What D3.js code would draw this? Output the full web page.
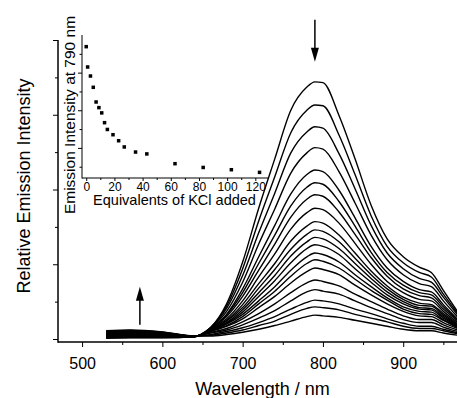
<!DOCTYPE html>
<html>
<head>
<meta charset="utf-8">
<script src="https://cdn.jsdelivr.net/npm/d3@7"></script>
<style>
  body { margin: 0; background: #fff; }
  svg { display: block; font-family: "Liberation Sans", Arial, sans-serif; }
</style>
</head>
<body>
<svg width="457" height="398"></svg>
<script>
// emission spectra, one row per KCl addition
const wavelengths = [530, 560, 600, 640, 660, 680, 700, 720, 740, 760, 780, 790, 800, 820, 840, 860, 880, 900, 920, 935, 950, 968];
const spectra = [
  [.010,.015,.015,.030,.15,.47,1.03,1.75,2.41,3.06,3.37,3.44,3.43,2.99,2.41,1.79,1.34,1.10,.96,.89,.65,.36],
  [.015,.021,.019,.031,.15,.44,.94,1.58,2.17,2.76,3.06,3.13,3.12,2.73,2.20,1.65,1.24,1.02,.89,.83,.60,.34],
  [.021,.026,.023,.031,.15,.41,.85,1.42,1.95,2.49,2.77,2.84,2.82,2.48,2.01,1.52,1.15,.94,.81,.76,.56,.32],
  [.026,.032,.028,.032,.15,.37,.76,1.27,1.74,2.22,2.49,2.56,2.54,2.24,1.82,1.39,1.06,.86,.74,.70,.51,.29],
  [.031,.037,.032,.032,.14,.33,.67,1.10,1.52,1.94,2.20,2.26,2.24,1.99,1.62,1.24,.95,.77,.66,.63,.46,.26],
  [.036,.043,.036,.033,.14,.32,.62,1.01,1.39,1.78,2.03,2.09,2.07,1.84,1.51,1.16,.89,.72,.62,.59,.43,.25],
  [.042,.048,.040,.033,.13,.30,.57,.92,1.27,1.63,1.87,1.93,1.91,1.70,1.40,1.09,.84,.67,.58,.55,.40,.24],
  [.047,.054,.044,.034,.13,.27,.51,.83,1.14,1.47,1.69,1.75,1.73,1.55,1.28,1.00,.77,.62,.53,.51,.37,.22],
  [.052,.059,.049,.034,.12,.25,.46,.74,1.01,1.31,1.51,1.57,1.55,1.39,1.15,.91,.71,.56,.48,.46,.34,.20],
  [.057,.065,.053,.035,.12,.24,.42,.68,.93,1.20,1.40,1.46,1.44,1.30,1.08,.86,.67,.53,.45,.44,.32,.19],
  [.063,.070,.057,.035,.12,.22,.39,.62,.85,1.11,1.30,1.36,1.34,1.21,1.01,.81,.63,.50,.42,.41,.30,.18],
  [.068,.076,.061,.036,.11,.21,.36,.57,.78,1.02,1.21,1.26,1.24,1.13,.94,.76,.59,.47,.40,.39,.28,.17],
  [.073,.081,.066,.036,.11,.20,.33,.51,.70,.92,1.10,1.15,1.13,1.03,.86,.70,.55,.43,.37,.36,.26,.16],
  [.078,.087,.070,.037,.11,.18,.30,.47,.64,.84,1.01,1.06,1.04,.95,.80,.65,.52,.40,.34,.33,.25,.15],
  [.084,.092,.074,.037,.10,.17,.27,.42,.57,.75,.90,.95,.93,.86,.72,.59,.47,.37,.31,.30,.22,.14],
  [.089,.098,.078,.038,.09,.14,.23,.34,.47,.62,.75,.79,.77,.71,.60,.50,.40,.31,.26,.26,.19,.12],
  [.094,.103,.082,.038,.08,.12,.19,.28,.38,.51,.63,.66,.64,.60,.51,.42,.34,.26,.22,.22,.16,.10],
  [.099,.109,.087,.039,.06,.10,.15,.22,.30,.40,.49,.52,.51,.47,.40,.34,.27,.21,.17,.17,.13,.08],
  [.105,.114,.091,.039,.05,.08,.12,.18,.24,.33,.41,.43,.42,.39,.33,.28,.23,.17,.14,.14,.11,.07],
  [.110,.120,.095,.040,.04,.06,.09,.13,.18,.24,.30,.32,.31,.29,.25,.21,.17,.13,.11,.11,.08,.05]
];

// inset: intensity at 790 nm vs equivalents of KCl
const equivalents = [0, 1, 3, 5, 7, 9, 11, 13, 15, 19, 23, 27, 35, 43, 63, 83, 103, 123];
const intensity790 = [7.38, 6.30, 5.82, 5.22, 4.44, 4.14, 3.86, 3.34, 2.98, 2.70, 2.38, 2.05, 1.78, 1.68, 1.16, 0.96, 0.84, 0.70];

const xTickValues = [500, 600, 700, 800, 900];
const xMinorTicks = [550, 650, 750, 850, 950];
const yTickValues = [0, 1, 2, 3, 4];
const yMinorTicks = [0.5, 1.5, 2.5, 3.5];
const insetXTicks = [0, 20, 40, 60, 80, 100, 120];
const insetXMinor = [10, 30, 50, 70, 90, 110];
const insetYTicks = [2, 4, 6];
const insetYMinor = [1, 3, 5, 7];

(function (d3) {
  const svg = d3.select('svg');

  const xScale = d3.scaleLinear().domain([470, 967]).range([58, 457]);
  const yScale = d3.scaleLinear().domain([0, 4]).range([339, 40]);
  const axisY = 342;

  // main x axis
  const xAxisG = svg.append('g').attr('transform', `translate(0,${axisY})`);
  xAxisG.append('g')
    .call(d3.axisBottom(xScale).tickValues(xTickValues).tickSize(5).tickSizeOuter(0))
    .call(g => g.select('.domain').remove())
    .call(g => g.selectAll('text').attr('y', 27).attr('dy', 0)
      .style('font-size', '16px').style('font-family', 'Liberation Sans, Arial, sans-serif').attr('fill', '#000'));
  xAxisG.append('g')
    .call(d3.axisBottom(xScale).tickValues(xMinorTicks).tickSize(3).tickFormat(''))
    .call(g => g.select('.domain').remove());
  xAxisG.append('line')
    .attr('x1', 58).attr('x2', 457)
    .attr('stroke', '#000').attr('stroke-width', 1.5);

  // main y axis (no labels)
  const yAxisG = svg.append('g').attr('transform', 'translate(58,0)');
  yAxisG.append('g')
    .call(d3.axisLeft(yScale).tickValues(yTickValues).tickSize(5).tickFormat(''))
    .call(g => g.select('.domain').remove());
  yAxisG.append('g')
    .call(d3.axisLeft(yScale).tickValues(yMinorTicks).tickSize(3).tickFormat(''))
    .call(g => g.select('.domain').remove());
  yAxisG.append('line')
    .attr('y1', yScale(4)).attr('y2', axisY + 0.75)
    .attr('stroke', '#000').attr('stroke-width', 1.5);

  // spectra
  const line = d3.line()
    .x((d, i) => xScale(wavelengths[i]))
    .y(d => yScale(d))
    .curve(d3.curveMonotoneX);

  svg.append('g')
    .selectAll('path').data(spectra)
    .enter().append('path')
      .attr('d', line)
      .attr('fill', 'none')
      .attr('stroke', '#000')
      .attr('stroke-width', 1.4)
      .attr('stroke-linejoin', 'round');

  // arrows
  const arrow = (x, yTail, yTip) => {
    const dir = yTip > yTail ? 1 : -1;
    svg.append('line')
      .attr('x1', x).attr('x2', x)
      .attr('y1', yTail).attr('y2', yTip - dir * 10)
      .attr('stroke', '#000').attr('stroke-width', 1.5);
    svg.append('path')
      .attr('d', `M${x - 4},${yTip - dir * 14}L${x + 4},${yTip - dir * 14}L${x},${yTip}Z`)
      .attr('fill', '#000');
  };
  arrow(xScale(790), yScale(4.27), yScale(3.71));
  arrow(xScale(572), yScale(0.19), yScale(0.70));

  // axis titles
  svg.append('text')
    .attr('x', 262.5).attr('y', 395)
    .attr('text-anchor', 'middle')
    .style('font-size', '18px')
    .text('Wavelength / nm');

  svg.append('text')
    .attr('transform', 'translate(29.5,186) rotate(-90)')
    .attr('text-anchor', 'middle')
    .style('font-size', '18px')
    .text('Relative Emission Intensity');

  // inset
  const insetX = d3.scaleLinear().domain([-3, 129]).range([82, 268]);
  const insetY = d3.scaleLinear().domain([0.4, 8.0]).range([178, 35]);
  const inset = svg.append('g');

  const ixG = inset.append('g').attr('transform', 'translate(0,178)');
  ixG.append('g')
    .call(d3.axisBottom(insetX).tickValues(insetXTicks).tickSize(3).tickSizeOuter(0))
    .call(g => g.select('.domain').remove())
    .call(g => g.selectAll('text').attr('y', 12.5).attr('dy', 0)
      .style('font-size', '12px').style('font-family', 'Liberation Sans, Arial, sans-serif').attr('fill', '#000'));
  ixG.append('g')
    .call(d3.axisBottom(insetX).tickValues(insetXMinor).tickSize(2).tickFormat(''))
    .call(g => g.select('.domain').remove());
  ixG.append('line')
    .attr('x1', 82).attr('x2', 268)
    .attr('stroke', '#000').attr('stroke-width', 1);

  const iyG = inset.append('g').attr('transform', 'translate(82,0)');
  iyG.append('g')
    .call(d3.axisLeft(insetY).tickValues(insetYTicks).tickSize(4).tickFormat(''))
    .call(g => g.select('.domain').remove());
  iyG.append('g')
    .call(d3.axisLeft(insetY).tickValues(insetYMinor).tickSize(2.5).tickFormat(''))
    .call(g => g.select('.domain').remove());
  iyG.append('line')
    .attr('y1', 35).attr('y2', 178.5)
    .attr('stroke', '#000').attr('stroke-width', 1);

  inset.append('g')
    .selectAll('rect').data(equivalents)
    .enter().append('rect')
      .attr('x', d => insetX(d) - 1.75)
      .attr('y', (d, i) => insetY(intensity790[i]) - 1.75)
      .attr('width', 3.5)
      .attr('height', 3.5)
      .attr('fill', '#000');

  inset.append('text')
    .attr('x', 174.5).attr('y', 205)
    .attr('text-anchor', 'middle')
    .style('font-size', '14.5px')
    .text('Equivalents of KCl added');

  inset.append('text')
    .attr('transform', 'translate(75,115) rotate(-90)')
    .attr('text-anchor', 'middle')
    .style('font-size', '15.5px')
    .text('Emission Intensity at 790 nm');

}(d3));
</script>
</body>
</html>
